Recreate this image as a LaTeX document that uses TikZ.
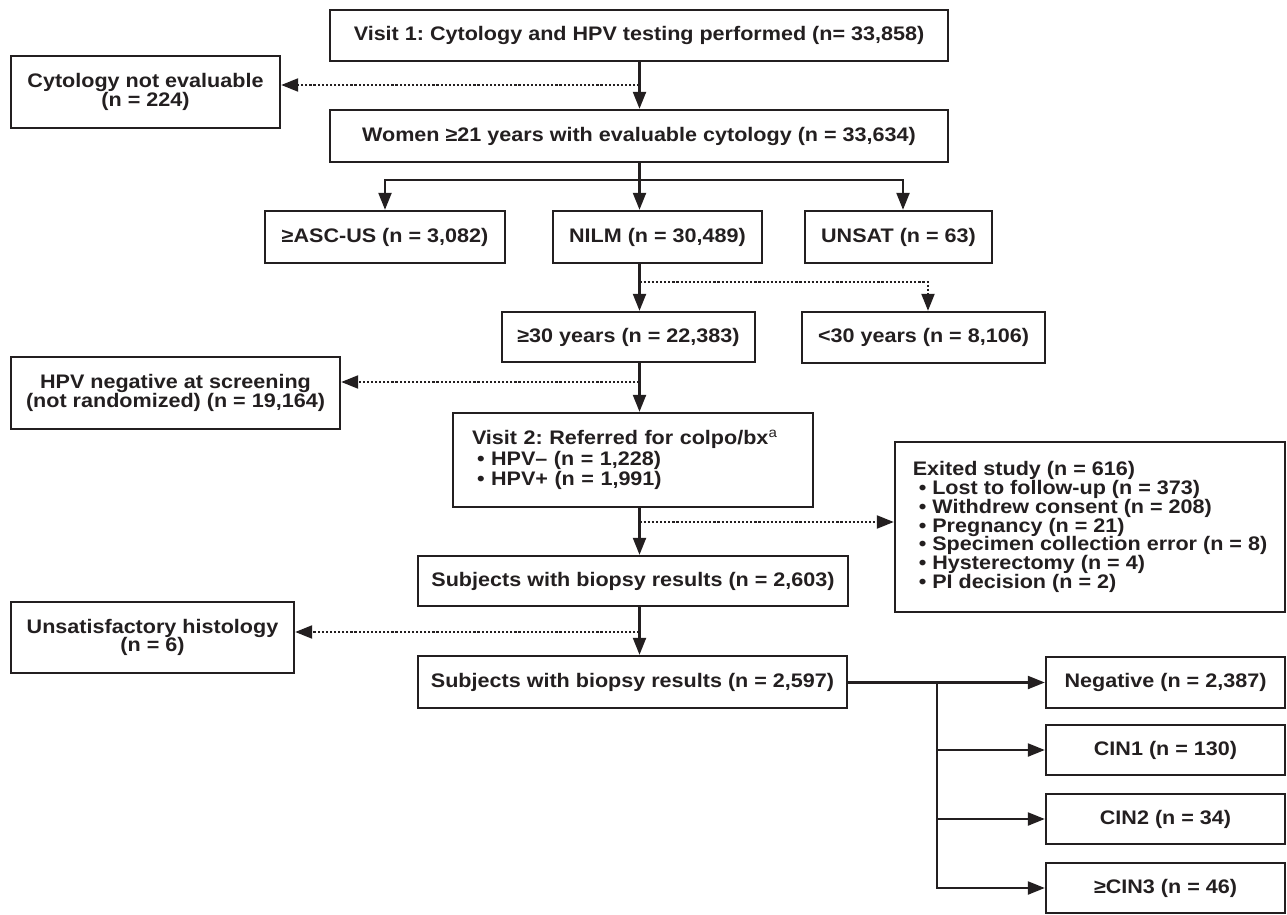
\documentclass[tikz,border=0pt]{standalone}
\usepackage{fontspec}
\setmainfont{Liberation Sans}[FakeStretch=1.1]
\usetikzlibrary{arrows.meta,calc}
\definecolor{ink}{HTML}{231F20}
\begin{document}
\frenchspacing
\lineskiplimit=-100pt
\begin{tikzpicture}[x=1pt,y=-1pt,
  every node/.style={font=\fontsize{19.6}{18.8}\selectfont\bfseries, text=ink},
  box/.style={draw=ink, line width=2.4pt, align=center, inner sep=0pt},
  lbox/.style={box, align=left},
  arr/.style={draw=ink, line width=2.3pt, -{Triangle[length=17pt,width=13pt]}},
  darr/.style={draw=ink, line width=2.2pt, dash pattern=on 2.2pt off 1.9pt, -{Triangle[length=17pt,width=13pt]}},
  ]
\useasboundingbox (0,0) rectangle (1287,915);
% nodes
\node[box,minimum width=618,minimum height=51] (v1) at (639,35.5) {Visit 1: Cytology and HPV testing performed (n= 33,858)};
\node[box,minimum width=269,minimum height=72] (cne) at (145.5,92) {Cytology not evaluable\\(n = 224)};
\node[box,minimum width=618,minimum height=52] (wom) at (639,136) {Women ≥21 years with evaluable cytology (n = 33,634)};
\node[box,minimum width=240,minimum height=52] (asc) at (385,237) {≥ASC-US (n = 3,082)};
\node[box,minimum width=209,minimum height=52] (nilm) at (657.5,237) {NILM (n = 30,489)};
\node[box,minimum width=187,minimum height=52] (unsat) at (898.5,237) {UNSAT (n = 63)};
\node[box,minimum width=253,minimum height=50] (ge30) at (628.5,337) {≥30 years (n = 22,383)};
\node[box,minimum width=243,minimum height=51] (lt30) at (923.5,337.5) {<30 years (n = 8,106)};
\node[box,minimum width=329,minimum height=72] (hpvneg) at (175.5,393) {HPV negative at screening\\(not randomized) (n = 19,164)};
\node[lbox,minimum width=360,minimum height=94,text width=322pt,inner xsep=19pt,
      font=\fontsize{19.6}{20.5}\selectfont\bfseries] (v2) at (633,460)
  {Visit 2: Referred for colpo/bx{\mdseries\textsuperscript{a}}\\
   \hspace*{5pt}• HPV– (n = 1,228)\\
   \hspace*{5pt}• HPV+ (n = 1,991)};
\node[lbox,minimum width=390,minimum height=170] (exit) at (1090,527)
  {Exited study (n = 616)\\
   \hspace*{6pt}• Lost to follow-up (n = 373)\\
   \hspace*{6pt}• Withdrew consent (n = 208)\\
   \hspace*{6pt}• Pregnancy (n = 21)\\
   \hspace*{6pt}• Specimen collection error (n = 8)\\
   \hspace*{6pt}• Hysterectomy (n = 4)\\
   \hspace*{6pt}• PI decision (n = 2)};
\node[box,minimum width=430,minimum height=50] (s1) at (633,581) {Subjects with biopsy results (n = 2,603)};
\node[box,minimum width=283,minimum height=71] (unh) at (152.5,637.5) {Unsatisfactory histology\\(n = 6)};
\node[box,minimum width=429,minimum height=52] (s2) at (632.5,682) {Subjects with biopsy results (n = 2,597)};
\node[box,minimum width=239,minimum height=51] (neg) at (1165.5,682.5) {Negative (n = 2,387)};
\node[box,minimum width=239,minimum height=50] (cin1) at (1165.5,750) {CIN1 (n = 130)};
\node[box,minimum width=239,minimum height=50] (cin2) at (1165.5,819) {CIN2 (n = 34)};
\node[box,minimum width=239,minimum height=50] (cin3) at (1165.5,888) {≥CIN3 (n = 46)};
% connectors
\coordinate (stem) at (639.5,0);
\draw[arr] (v1.south -| stem) -- (wom.north -| stem);
\coordinate (d1) at (639.5,85);
\draw[darr] (d1) -- (d1 -| cne.east);
\coordinate (br) at (639.5,180);
\draw[arr] (wom.south -| stem) -- (nilm.north -| stem);
\draw[arr] (br) -| (asc.north);
\draw[arr] (br) -| (unsat.north -| 903,0);
\draw[arr] (nilm.south -| stem) -- (ge30.north -| stem);
\coordinate (d2) at (639.5,282);
\coordinate (d2e) at (928,282);
\draw[darr] (d2) -- (d2e) -- (d2e |- lt30.north);
\draw[arr] (ge30.south -| stem) -- (v2.north -| stem);
\coordinate (d3) at (639.5,382);
\draw[darr] (d3) -- (d3 -| hpvneg.east);
\draw[arr] (v2.south -| stem) -- (s1.north -| stem);
\coordinate (d4) at (639.5,522);
\draw[darr] (d4) -- (d4 -| exit.west);
\draw[arr] (s1.south -| stem) -- (s2.north -| stem);
\coordinate (d5) at (639.5,632);
\draw[darr] (d5) -- (d5 -| unh.east);
\coordinate (sp) at (937,682.5);
\draw[arr] (s2.east |- sp) -- (neg.west);
\draw[arr] (sp) |- (cin1.west);
\draw[arr] (sp) |- (cin2.west);
\draw[arr] (sp) |- (cin3.west);
\end{tikzpicture}
\end{document}
